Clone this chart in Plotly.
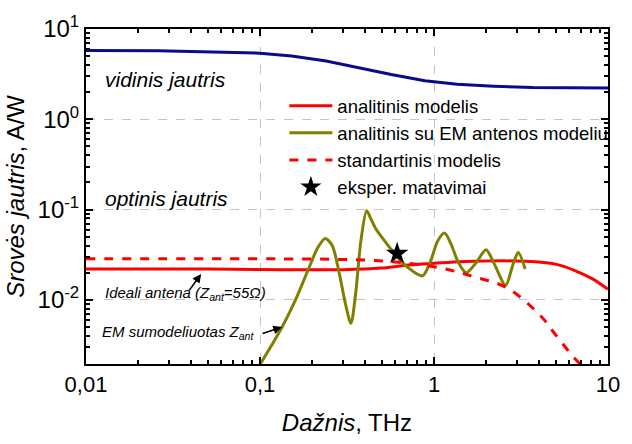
import math
import plotly.graph_objects as go

# Frequency (THz) and current responsivity (A/W) for each model
f_internal = [0.01, 0.026, 0.1, 0.152, 0.24, 0.37, 0.568, 0.885, 1.36, 2.2, 3.7, 10]
s_internal = [5.77, 5.74, 5.40, 5.01, 4.43, 3.72, 3.13, 2.67, 2.45, 2.33, 2.25, 2.22]

f_analytic = [0.01, 0.05, 0.137, 0.3, 0.5, 0.71, 1.0, 1.7, 3.26, 5.0, 6.5, 8.1, 10]
s_analytic = [0.022, 0.022, 0.0216, 0.0216, 0.0225, 0.0243, 0.0255, 0.0268, 0.0268, 0.0249, 0.021, 0.0172, 0.0131]

f_em = [0.098, 0.115, 0.134, 0.16, 0.19, 0.215, 0.237, 0.26, 0.285, 0.31, 0.333,
        0.355, 0.38, 0.41, 0.43, 0.461, 0.52, 0.575, 0.656, 0.75, 0.861, 0.95,
        1.05, 1.15, 1.25, 1.38, 1.53, 1.75, 1.99, 2.2, 2.58, 2.85, 3.05, 3.34]
s_em = [0.0018, 0.003, 0.005, 0.01, 0.022, 0.038, 0.048, 0.040, 0.02, 0.009, 0.0055,
        0.012, 0.045, 0.097, 0.082, 0.062, 0.045, 0.035, 0.026, 0.021, 0.0185, 0.026,
        0.045, 0.055, 0.042, 0.026, 0.020, 0.026, 0.036, 0.026, 0.0145, 0.025, 0.0334, 0.022]

f_standard = [0.01, 0.1, 0.3, 0.58, 1.1, 1.7, 2.61, 4.06, 4.82, 6.5, 7.5]
s_standard = [0.0285, 0.0285, 0.028, 0.0265, 0.0225, 0.018, 0.0137, 0.0068, 0.0045, 0.0022, 0.0017]

f_measured = [0.614]
s_measured = [0.0326]

x_tickvals = [0.01, 0.1, 1, 10]
x_ticktext = ["0,01", "0,1", "1", "10"]
y_tickvals = [0.01, 0.1, 1, 10]
y_ticktext = ["10<sup>-2</sup>", "10<sup>-1</sup>", "10<sup>0</sup>", "10<sup>1</sup>"]

FONT = "Liberation Sans, Arial, sans-serif"

fig = go.Figure()
fig.add_trace(go.Scatter(x=f_internal, y=s_internal, mode="lines",
                         line=dict(color="#0a0a8c", width=3), showlegend=False))
fig.add_trace(go.Scatter(x=f_analytic, y=s_analytic, mode="lines", name="analitinis modelis",
                         line=dict(color="#ff0000", width=3, shape="spline")))
fig.add_trace(go.Scatter(x=f_em, y=s_em, mode="lines", name="analitinis su EM antenos modeliu",
                         line=dict(color="#808000", width=3, shape="spline", smoothing=0.8)))
fig.add_trace(go.Scatter(x=f_standard, y=s_standard, mode="lines", name="standartinis modelis",
                         line=dict(color="#ff0000", width=3, dash="dash", shape="spline")))
fig.add_trace(go.Scatter(x=f_measured, y=s_measured, mode="markers", name="eksper. matavimai",
                         marker=dict(symbol="star", size=17, color="black")))

axis_common = dict(
    type="log", showline=True, linecolor="black", linewidth=2, mirror="allticks",
    ticks="inside", ticklen=7, tickwidth=1.5, tickcolor="black",
    showgrid=True, gridcolor="#c4c4c4", griddash="dash", gridwidth=1,
    zeroline=False,
    minor=dict(ticks="inside", ticklen=4, tickwidth=1.5, tickcolor="black",
               dtick="D1", showgrid=False),
)

fig.update_xaxes(**axis_common, range=[-2, 1], tickvals=x_tickvals, ticktext=x_ticktext,
                 tickfont=dict(family=FONT, size=22, color="black"),
                 title=dict(text="<i>Dažnis</i>, THz", font=dict(family=FONT, size=24, color="black"),
                            standoff=18))
fig.update_yaxes(**axis_common, range=[-2.71, 1], tickvals=y_tickvals, ticktext=y_ticktext,
                 tickfont=dict(family=FONT, size=24, color="black"),
                 title=dict(text="<i>Srovės jautris</i>, A/W", font=dict(family=FONT, size=24, color="black"),
                            standoff=6))

ann_font = dict(family=FONT, size=21, color="black")
small_font = dict(family=FONT, size=15, color="black")
fig.add_annotation(x=0.0325, y=0.85, xref="paper", yref="paper", text="<i>vidinis jautris</i>",
                   showarrow=False, xanchor="left", yanchor="middle", font=ann_font)
fig.add_annotation(x=0.0325, y=0.494, xref="paper", yref="paper", text="<i>optinis jautris</i>",
                   showarrow=False, xanchor="left", yanchor="middle", font=ann_font)
fig.add_annotation(x=0.032, y=0.209, xref="paper", yref="paper",
                   text="<i>Ideali antena (Z<sub>ant</sub>=55Ω)</i>",
                   showarrow=False, xanchor="left", yanchor="middle", font=small_font)
fig.add_annotation(x=0.026, y=0.093, xref="paper", yref="paper",
                   text="<i>EM sumodeliuotas Z<sub>ant</sub></i>",
                   showarrow=False, xanchor="left", yanchor="middle", font=small_font)

# Pointer arrows from the labels to the curves (log axes take log10 positions)
fig.add_annotation(x=math.log10(0.0459), y=math.log10(0.0194), xref="x", yref="y",
                   ax=-13, ay=18, text="", showarrow=True, arrowhead=2,
                   arrowsize=1.1, arrowwidth=1.6, arrowcolor="black")
fig.add_annotation(x=math.log10(0.134), y=math.log10(0.0050), xref="x", yref="y",
                   ax=-21, ay=7, text="", showarrow=True, arrowhead=2,
                   arrowsize=1.1, arrowwidth=1.6, arrowcolor="black")

fig.update_layout(
    width=632, height=444,
    margin=dict(l=86, r=16, t=23, b=77),
    paper_bgcolor="white", plot_bgcolor="white",
    font=dict(family=FONT, color="black"),
    legend=dict(x=0.38, y=0.826, xanchor="left", yanchor="top", bgcolor="rgba(0,0,0,0)",
                itemwidth=43, font=dict(family=FONT, size=18.5, color="black"), tracegroupgap=0),
)

fig.write_html("out.html")
